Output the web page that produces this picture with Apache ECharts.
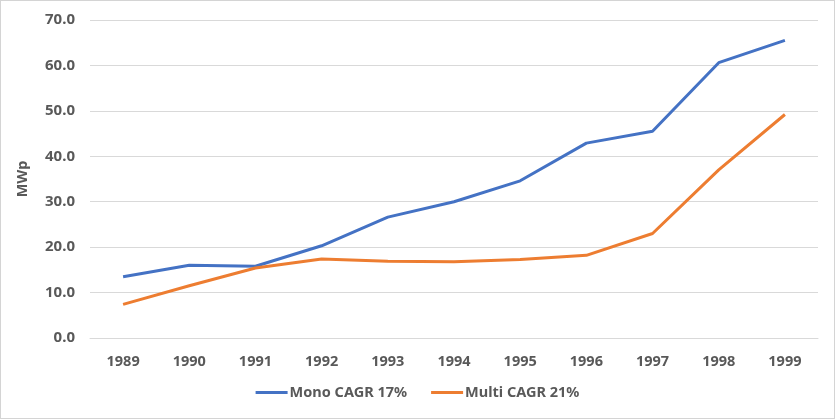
<!DOCTYPE html>
<html>
<head>
<meta charset="utf-8">
<script src="https://cdn.jsdelivr.net/npm/echarts@6/dist/echarts.min.js"></script>
<style>
html,body{margin:0;padding:0;background:#fff;}
#c{width:835px;height:419px;box-sizing:border-box;border:1px solid #d4d4d4;}
</style>
</head>
<body>
<div id="c"></div>
<script>
const categories = ['1989','1990','1991','1992','1993','1994','1995','1996','1997','1998','1999'];
const monoValues = [13.5, 16.0, 15.8, 20.3, 26.6, 30.0, 34.6, 42.9, 45.5, 60.6, 65.5];
const multiValues = [7.4, 11.5, 15.4, 17.4, 16.9, 16.8, 17.3, 18.2, 23.0, 37.0, 49.2];
const seriesNames = ['Mono CAGR 17%', 'Multi CAGR 21%'];
const yTicks = {min: 0, max: 70, interval: 10};

const chart = echarts.init(document.getElementById('c'));
const labelColor = '#595959';
const font = 'Noto Sans';
chart.setOption({
  animation: false,
  grid: {left: 89, right: 16, top: 19, bottom: 80},
  legend: {
    data: seriesNames,
    bottom: 13,
    left: 'center',
    icon: 'rect',
    itemWidth: 32,
    itemHeight: 3,
    itemGap: 24,
    textStyle: {color: labelColor, fontFamily: font, fontWeight: 'bold', fontSize: 14.5, padding: [0, 0, 0, -3]}
  },
  xAxis: {
    type: 'category',
    data: categories,
    boundaryGap: true,
    axisLine: {show: true, lineStyle: {color: '#d9d9d9', width: 1}},
    axisTick: {show: false},
    axisLabel: {color: labelColor, fontFamily: font, fontWeight: 'bold', fontSize: 14.5, margin: 16}
  },
  yAxis: {
    type: 'value',
    min: yTicks.min, max: yTicks.max, interval: yTicks.interval,
    name: 'MWp',
    nameLocation: 'middle',
    nameGap: 60,
    nameTextStyle: {color: labelColor, fontFamily: font, fontWeight: 'bold', fontSize: 14.5},
    axisLine: {show: false},
    axisTick: {show: false},
    splitLine: {lineStyle: {color: '#d9d9d9', width: 1}},
    axisLabel: {color: labelColor, fontFamily: font, fontWeight: 'bold', fontSize: 15, margin: 15,
      formatter: v => v.toFixed(1)}
  },
  series: [
    {name: seriesNames[0], type: 'line', data: monoValues, symbol: 'none',
      lineStyle: {color: '#4472C4', width: 3}, itemStyle: {color: '#4472C4'}},
    {name: seriesNames[1], type: 'line', data: multiValues, symbol: 'none',
      lineStyle: {color: '#ED7D31', width: 3}, itemStyle: {color: '#ED7D31'}}
  ]
});
</script>
</body>
</html>
